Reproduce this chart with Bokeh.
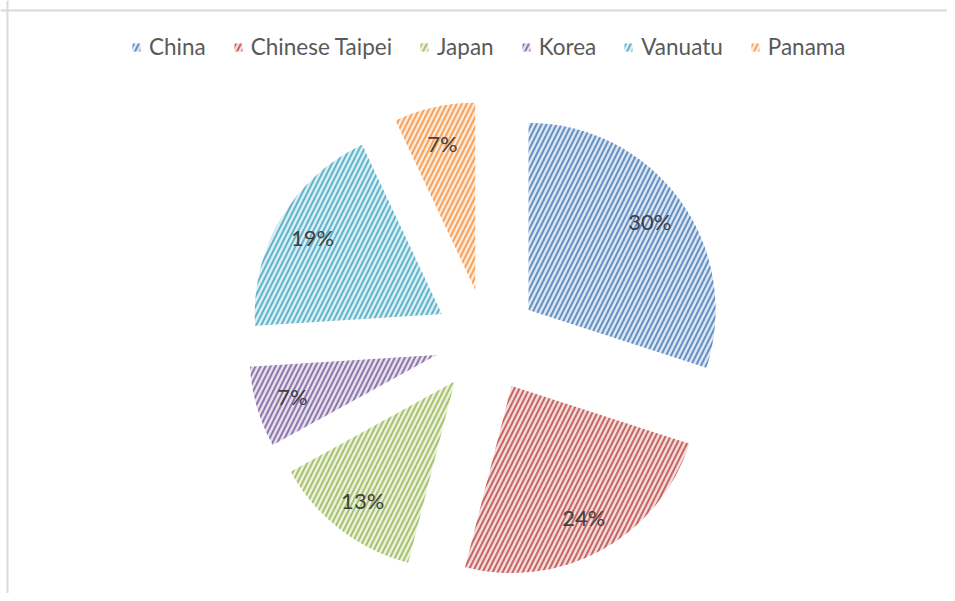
import math
from bokeh.plotting import figure
from bokeh.models import ColumnDataSource, Legend, LegendItem, Span
from bokeh.embed import file_html
from bokeh.resources import INLINE
from bokeh.core.properties import value

# ---- data ----
countries = ["China", "Chinese Taipei", "Japan", "Korea", "Vanuatu", "Panama"]
shares = [30, 24, 13, 7, 19, 7]
colors = ["#4F81BD", "#C0504D", "#9BBB59", "#8064A2", "#4BACC6", "#F79646"]

# ---- layout ----
W, H = 947, 593
CX, CY = 486, 253      # pie centre (1 data unit = 1 px)
R = 187                # radius
EXPLODE = 52           # explosion distance
LABEL_R = 150          # label distance from slice apex


def tint(hex_color, f):
    h = hex_color.lstrip("#")
    r, g, b = (int(h[i:i + 2], 16) for i in (0, 2, 4))
    mix = lambda c: int(round(c * f + 255 * (1 - f)))
    return "#%02x%02x%02x" % (mix(r), mix(g), mix(b))


total = float(sum(shares))
xs, ys, starts, ends, lx, ly, texts, fills = [], [], [], [], [], [], [], []
cum = 0.0
for s, c in zip(shares, colors):
    a1 = math.pi / 2 - 2 * math.pi * cum / total
    a2 = a1 - 2 * math.pi * s / total
    mid = (a1 + a2) / 2
    ox = CX + EXPLODE * math.cos(mid)
    oy = CY + EXPLODE * math.sin(mid)
    xs.append(ox)
    ys.append(oy)
    starts.append(a2)
    ends.append(a1)
    lx.append(ox + LABEL_R * math.cos(mid))
    ly.append(oy + LABEL_R * math.sin(mid))
    texts.append("%d%%" % round(100 * s / total))
    fills.append(tint(c, 0.2))
    cum += s

src = ColumnDataSource(dict(x=xs, y=ys, start=starts, end=ends, color=colors,
                            fill=fills, name=countries, lx=lx, ly=ly, text=texts))

p = figure(width=W, height=H, x_range=(0, W), y_range=(0, H),
           output_backend="svg", toolbar_location=None, min_border=0)
p.axis.visible = False
p.grid.visible = False
p.outline_line_color = None
p.background_fill_color = "white"
p.border_fill_color = "white"

wr = p.wedge(x="x", y="y", radius=R, start_angle="start", end_angle="end",
             direction="anticlock", source=src,
             fill_color="fill", line_color=None,
             hatch_pattern="/", hatch_color="color", hatch_alpha=0.85,
             hatch_scale=10, hatch_weight=2)

p.text(x="lx", y="ly", text="text", source=src, text_align="center",
       text_baseline="middle", text_font=value("Lato"), text_font_size="22px",
       text_color="#404040")

# chart border (top & left visible)
p.add_layout(Span(location=7, dimension="height", line_color="#d9d9d9", line_width=2))
p.add_layout(Span(location=H - 10, dimension="width", line_color="#d9d9d9", line_width=2))

items = [LegendItem(label=n, renderers=[wr], index=i) for i, n in enumerate(countries)]
legend = Legend(items=items, orientation="horizontal", location=(131, H - 60),
                border_line_color=None, background_fill_alpha=0,
                glyph_width=10, glyph_height=10, label_standoff=8, spacing=27,
                padding=0, margin=0,
                label_text_font="Lato", label_text_font_size="22.5px",
                label_text_color="#595959")
p.add_layout(legend)

open("out.html", "w").write(file_html(p, INLINE))
